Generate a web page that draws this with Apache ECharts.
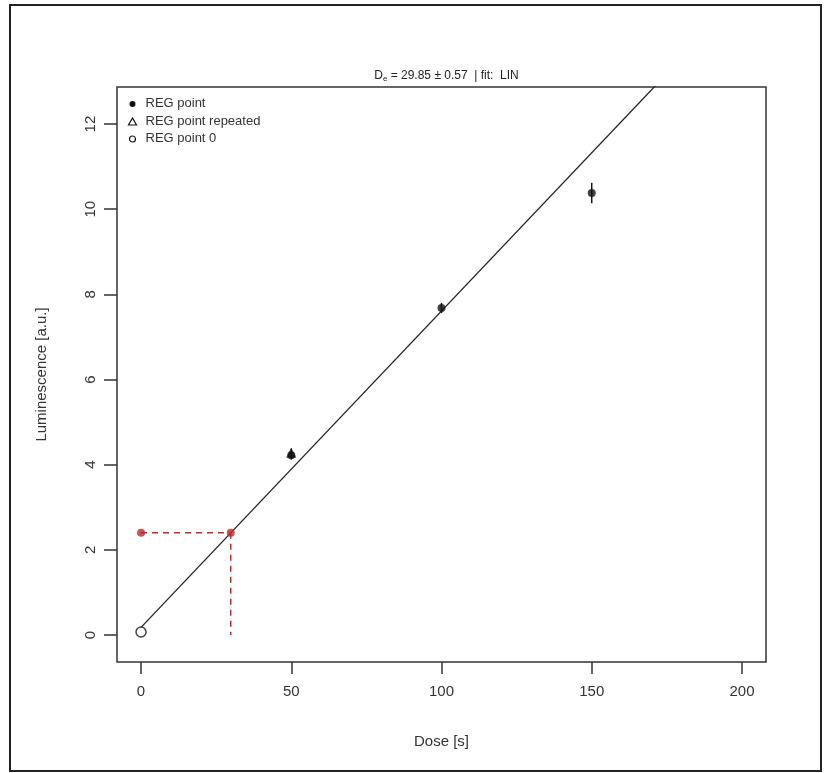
<!DOCTYPE html>
<html>
<head>
<meta charset="utf-8">
<title>Dose response</title>
<script src="https://cdn.jsdelivr.net/npm/echarts@6/dist/echarts.min.js"></script>
<style>
	html, body { margin: 0; padding: 0; background: #fff; }
	#chart { width: 827px; height: 773px; }
</style>
</head>
<body>
<div id="chart"></div>
<script>
// values
var xTicks = [0, 50, 100, 150, 200];
var yTicks = [0, 2, 4, 6, 8, 10, 12];

var regPoints = [[50, 4.22], [100, 7.68], [150, 10.38]];
var regErr = [0.1, 0.12, 0.24];
var regRepeated = [[50, 4.28]];
var regRepeatedErr = [0.1];
var regZero = [[0, 0.07]];

var fitLine = [[0, 0.18], [200, 15.04]];
var dePoints = [[0, 2.4], [29.85, 2.4]];
var deLines = [[[0, 2.4], [29.85, 2.4]], [[29.85, 2.4], [29.85, 0]]];

var font = 'Liberation Sans, Arial, sans-serif';
var red = '#bd2a2e';

function errData(pts, err) {
	return pts.map(function (p, i) { return [p[0], p[1] - err[i], p[1] + err[i]]; });
}

function renderErr(params, api) {
	var lo = api.coord([api.value(0), api.value(1)]);
	var hi = api.coord([api.value(0), api.value(2)]);
	return {
		type: 'line',
		shape: { x1: lo[0], y1: lo[1], x2: hi[0], y2: hi[1] },
		style: { stroke: '#111', lineWidth: 1.5 }
	};
}

var chart = echarts.init(document.getElementById('chart'));
chart.setOption({
	animation: false,
	backgroundColor: '#fff',
	textStyle: { fontFamily: font },
	title: {
		text: '{m|D}{s|e}{m| = 29.85 ± 0.57  | fit:  LIN}',
		left: 441.5,
		textAlign: 'center',
		top: 64,
		textStyle: {
			rich: {
				m: { fontSize: 12, color: '#222', fontWeight: 'normal', fontFamily: font },
				s: { fontSize: 8, color: '#222', fontWeight: 'normal', fontFamily: font, verticalAlign: 'bottom', padding: [6, 0, 0, 0] }
			}
		}
	},
	graphic: [{
		type: 'rect',
		shape: { x: 10, y: 5, width: 811, height: 766 },
		style: { fill: 'none', stroke: '#222', lineWidth: 2 },
		silent: true
	}, {
		type: 'group',
		left: 126,
		top: 97,
		children: [
			{ type: 'circle', shape: { cx: 4, cy: 7, r: 3 }, style: { fill: '#111' } },
			{ type: 'polygon', shape: { points: [[4, 21], [0, 28], [8, 28]] }, style: { fill: 'none', stroke: '#111', lineWidth: 1.2 } },
			{ type: 'circle', shape: { cx: 4, cy: 42, r: 3 }, style: { fill: 'none', stroke: '#111', lineWidth: 1.2 } },
			{ type: 'text', x: 17, y: 0, style: { text: 'REG point', fill: '#333', font: '13px ' + font } },
			{ type: 'text', x: 17, y: 18, style: { text: 'REG point repeated', fill: '#333', font: '13px ' + font } },
			{ type: 'text', x: 17, y: 35, style: { text: 'REG point 0', fill: '#333', font: '13px ' + font } }
		]
	}],
	grid: {
		left: 117, top: 87, right: 61, bottom: 111,
		show: true, borderColor: '#333', borderWidth: 1.5, backgroundColor: 'transparent'
	},
	xAxis: {
		type: 'value',
		min: -8, max: 208,
		name: 'Dose [s]',
		nameLocation: 'middle',
		nameGap: 72,
		nameTextStyle: { fontSize: 15, color: '#333' },
		axisLine: { show: false, onZero: false },
		splitLine: { show: false },
		axisTick: { show: true, inside: false, length: 12, customValues: xTicks, lineStyle: { color: '#333', width: 1.5 } },
		axisLabel: { fontSize: 15, color: '#333', margin: 22, customValues: xTicks }
	},
	yAxis: {
		type: 'value',
		min: -0.634, max: 12.87,
		name: 'Luminescence [a.u.]',
		nameLocation: 'middle',
		nameGap: 68,
		nameTextStyle: { fontSize: 15, color: '#333' },
		axisLine: { show: false, onZero: false },
		splitLine: { show: false },
		axisTick: { show: true, inside: false, length: 13, customValues: yTicks, lineStyle: { color: '#333', width: 1.5 } },
		axisLabel: { fontSize: 15, color: '#333', rotate: 90, margin: 19, customValues: yTicks }
	},
	series: [{
		type: 'line',
		data: fitLine,
		symbol: 'none',
		lineStyle: { color: '#222', width: 1.3 },
		clip: true,
		z: 2
	}, {
		type: 'line',
		data: deLines[0],
		symbol: 'none',
		lineStyle: { color: red, width: 1.5, type: [6, 5] },
		z: 3
	}, {
		type: 'line',
		data: deLines[1],
		symbol: 'none',
		lineStyle: { color: red, width: 1.5, type: [6, 5] },
		z: 3
	}, {
		type: 'scatter',
		data: dePoints,
		symbol: 'circle',
		symbolSize: 8,
		itemStyle: { color: red },
		z: 4
	}, {
		type: 'custom',
		renderItem: renderErr,
		data: errData(regPoints, regErr).concat(errData(regRepeated, regRepeatedErr)),
		encode: { x: 0, y: [1, 2] },
		z: 4
	}, {
		type: 'scatter',
		data: regPoints,
		symbol: 'circle',
		symbolSize: 8,
		itemStyle: { color: '#111' },
		z: 5
	}, {
		type: 'scatter',
		data: regRepeated,
		symbol: 'triangle',
		symbolSize: 10,
		itemStyle: { color: '#111' },
		z: 5
	}, {
		type: 'scatter',
		data: regZero,
		symbol: 'circle',
		symbolSize: 10,
		itemStyle: { color: '#fff', borderColor: '#111', borderWidth: 1.5 },
		z: 5
	}]
});
</script>
</body>
</html>
